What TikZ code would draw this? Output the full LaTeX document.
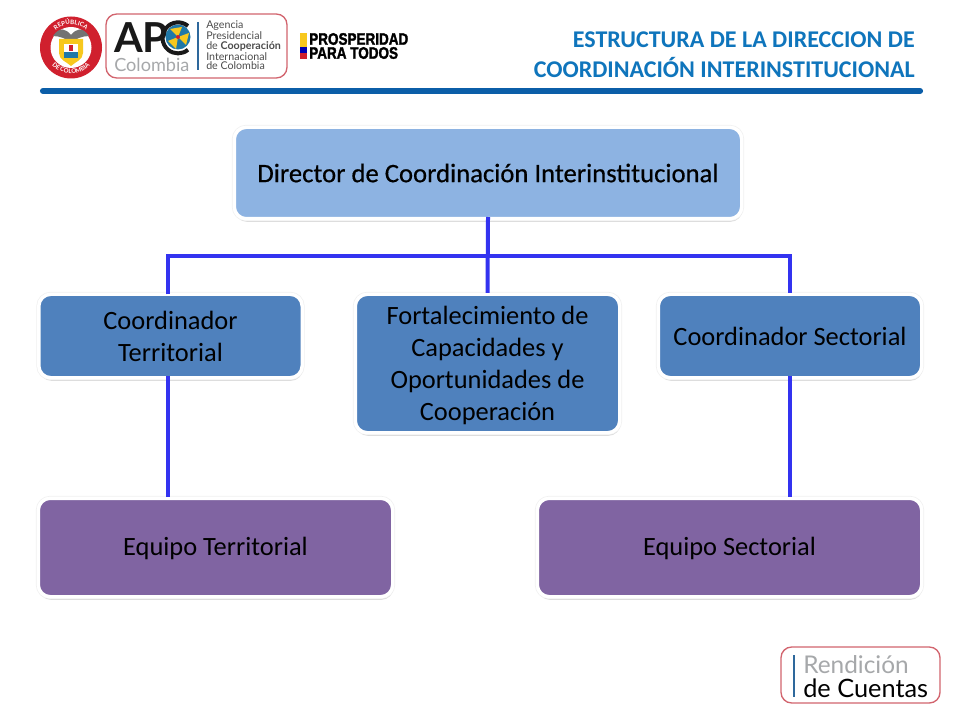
\documentclass[tikz,border=0pt]{standalone}
\usepackage{fontspec}
\setmainfont{Carlito}
\newfontfamily\logofont{Lato}
\newfontfamily\heavyfont{Liberation Sans}[FakeBold=2]
\usetikzlibrary{shadows,positioning,calc,decorations.text}
\definecolor{titleblue}{HTML}{0F75BC}
\definecolor{barblue}{HTML}{0B5EA8}
\definecolor{lightbox}{HTML}{8DB3E2}
\definecolor{midbox}{HTML}{4F81BD}
\definecolor{purplebox}{HTML}{8064A2}
\definecolor{linkblue}{HTML}{3333F0}
\definecolor{logored}{HTML}{D0202E}
\definecolor{softred}{HTML}{D2646E}
\definecolor{logogray}{HTML}{A6A8AA}
\definecolor{globeblue}{HTML}{1F78A8}
\definecolor{flagyellow}{HTML}{F7C81E}
\tikzset{
  x=0.75pt,y=-0.75pt,
  orgbox/.style={rounded corners=9pt,draw=white,line width=2.6pt,align=center,inner sep=0pt,outer sep=0pt,
    font=\fontsize{19.8}{24}\selectfont,text=black,
    drop shadow={shadow xshift=0.5pt,shadow yshift=-2.3pt,fill=black!35,opacity=0.4},
    preaction={draw=black!6,line width=3.6pt}},
  link/.style={draw=linkblue,line width=3pt},
  linktop/.style={link,shorten >=1pt},
  linkbot/.style={link,shorten <=-1.3pt,shorten >=1pt},
  logotxt/.style={inner sep=0pt,anchor=west,font=\logofont\fontsize{8}{8}\selectfont,text=black!70},
  prostxt/.style={inner sep=0pt,anchor=west,font=\heavyfont\bfseries\fontsize{12.5}{12.5}\selectfont},
}
\begin{document}
\begin{tikzpicture}
\useasboundingbox (0,0) rectangle (960,720);
\fill[white] (0,0) rectangle (960,720);

% header
\node[anchor=east,inner sep=0pt,text=titleblue,font=\bfseries\fontsize{18}{21}\selectfont] (titleA) at (915,40) {ESTRUCTURA DE LA DIRECCION DE};
\node[anchor=east,inner sep=0pt,text=titleblue,font=\bfseries\fontsize{18}{21}\selectfont] (titleB) at (915,68) {COORDINACIÓN INTERINSTITUCIONAL};
\draw[barblue,line width=4.6pt,line cap=round] (43,91) -- (920,91);

% seal
\fill[logored] (71,47.5) circle (31);
\fill[white] (71,47.5) circle (20.5);
\fill[black!55] (53,36) .. controls (60,26) and (66,29) .. (71,35) .. controls (76,29) and (82,26) .. (89,36) .. controls (82,36) and (76,39) .. (71,42) .. controls (66,39) and (60,36) .. (53,36) -- cycle;
\fill[flagyellow] (59,39) -- (83,39) -- (83,53) .. controls (83,60) and (75,62) .. (71,66) .. controls (67,62) and (59,60) .. (59,53) -- cycle;
\fill[white] (64,44) rectangle (78,52);
\fill[logored] (69,45) rectangle (73,51);
\fill[globeblue] (64,52) rectangle (78,58);
\path[decorate,decoration={text along path,text align=center,text={|\logofont\bfseries\fontsize{4.6}{5}\selectfont\color{white}|REPÚBLICA}}] (51,36) arc (-150:-30:23);
\path[decorate,decoration={text along path,text align=center,text={|\logofont\bfseries\fontsize{4.6}{5}\selectfont\color{white}|DE COLOMBIA}}] (48.5,60.5) arc (150:30:26);

% APC logo
\draw[softred,line width=1pt,rounded corners=8pt,fill=white] (106,14) rectangle (287,78);
\node[inner sep=0pt,anchor=west,font=\logofont\bfseries\fontsize{31}{31}\selectfont,text=black!90,text height=22pt,text depth=0pt] (apc) at (114,38) {AP};
\fill[globeblue] (178,37) circle (12.5);
\fill[flagyellow] (178,37) -- (170,29) -- (182,27) -- cycle;
\fill[flagyellow] (178,37) -- (189,33) -- (186,45) -- cycle;
\fill[flagyellow] (178,37) -- (176,49) -- (168,41) -- cycle;
\fill[logored] (178,37) circle (2);
\draw[black!90,line width=3pt] (188,26) arc (-50:-310:15.5);
\node[inner sep=0pt,anchor=west,font=\logofont\fontsize{13.6}{15}\selectfont,text=logogray] (colo) at (114,65) {Colombia};
\draw[barblue!70!gray,line width=0.8pt] (198,22) -- (198,70);
\node[logotxt] (agA) at (206,26) {Agencia};
\node[logotxt] (agB) at (206,36) {Presidencial};
\node[logotxt] (agC) at (206,46.5) {de \textbf{Cooperación}};
\node[logotxt] (agD) at (206,56.5) {Internacional};
\node[logotxt] (agE) at (206,66) {de Colombia};

% Prosperidad
\fill[flagyellow] (300,33) rectangle (307,47);
\fill[blue!70!black] (300,47) rectangle (307,53);
\fill[logored] (300,53) rectangle (307,59);
\node[prostxt] (prosA) at (309,39) {\scalebox{0.81}[1]{PROSPERIDAD}};
\node[prostxt] (prosB) at (309,53) {\scalebox{0.81}[1]{PARA TODOS}};

% boxes
\node[orgbox,fill=lightbox,minimum width=380.6pt,minimum height=68.6pt,font=\fontsize{20}{24}\selectfont\addfontfeature{FakeBold=0.5}] (dir) at (488,173) {Director de Coordinación Interinstitucional};
\node[orgbox,fill=midbox,minimum width=197.6pt,minimum height=62.6pt] (ct) at (170.5,336) {Coordinador\\Territorial};
\node[orgbox,fill=midbox,minimum width=198.35pt,minimum height=103.85pt] (ft) at (487.5,363.5) {\rule{0pt}{16pt}Fortalecimiento de\\Capacidades y\\Oportunidades de\\Cooperación};
\node[orgbox,fill=midbox,minimum width=197.6pt,minimum height=62.6pt] (cs) at (790,336) {Coordinador Sectorial};
\node[orgbox,fill=purplebox,minimum width=265.85pt,minimum height=73.85pt,text height=11.5pt,text depth=0pt] (et) at (215.5,547.5) {Equipo Territorial};
\node[orgbox,fill=purplebox,minimum width=288.35pt,minimum height=73.85pt,text height=11.5pt,text depth=0pt] (es) at (729.5,547.5) {Equipo Sectorial};

% connectors
\coordinate (bus) at (488,256);
\coordinate (ctTop) at ([xshift=-1.9pt]ct.north);
\coordinate (ctBot) at ([xshift=-1.9pt]ct.south);
\draw[linkbot] (dir.south) -- (ft.north);
\draw[linktop] (ctTop) |- (bus) -| (cs.north);
\draw[linkbot] (ctBot) -- (ctBot |- et.north);
\draw[linkbot] (cs.south) -- (cs.south |- es.north);

% Rendicion logo
\draw[softred,line width=1pt,rounded corners=8pt,fill=white] (781,647) rectangle (940,703);
\draw[barblue!70!gray,line width=0.9pt] (794,655) -- (794,697);
\node[inner sep=0pt,anchor=west,font=\logofont\fontsize{18.3}{19}\selectfont,text=logogray] (ren) at (803,665) {Rendición};
\node[inner sep=0pt,anchor=west,font=\logofont\fontsize{19}{20}\selectfont,text=black] (cue) at (803,688) {de Cuentas};
\end{tikzpicture}
\end{document}
